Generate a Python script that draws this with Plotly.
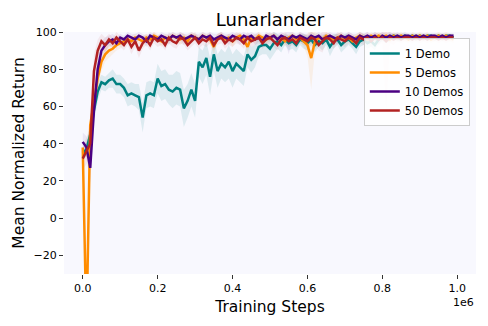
import plotly.graph_objects as go

# training steps (every 10k steps, 100 evaluations)
steps = [i * 10000 for i in range(100)]

demo1_mean = [35, 37, 45, 58, 68, 73, 72, 74, 75, 72,
              72, 70, 66, 67, 66, 65, 54, 66, 67, 66,
              75, 71, 72, 69, 68, 70, 69, 59, 63, 69,
              63, 84, 81, 86, 76, 88, 79, 83, 81, 84,
              79, 83, 81, 79, 88, 85, 87, 92, 93, 93,
              91, 94, 95, 93, 96, 94, 95, 93, 96, 95,
              94, 96, 93, 95, 94, 96, 92, 95, 96, 93,
              95, 96, 94, 92, 95, 96, 94, 95, 93, 96,
              97, 96, 97, 98, 97, 97, 98, 97, 98, 97,
              98, 97, 98, 98, 97, 98, 97, 98, 98, 97]
demo1_std = [3, 4, 5, 6, 5, 4, 4, 4, 5, 5,
             5, 5, 6, 6, 6, 7, 8, 7, 7, 7,
             8, 8, 8, 8, 9, 9, 9, 10, 9, 9,
             9, 8, 9, 9, 10, 9, 9, 8, 8, 9,
             9, 8, 8, 8, 7, 7, 6, 5, 5, 5,
             6, 6, 4, 4, 3, 4, 4, 4, 3, 4,
             4, 3, 4, 3, 4, 3, 5, 4, 3, 4,
             4, 3, 3, 4, 3, 3, 3, 3, 3, 2,
             2, 2, 2, 1, 2, 2, 1, 2, 1, 2,
             1, 2, 1, 1, 2, 1, 2, 1, 1, 2]

demo5_mean = [38, -60, 50, 62, 75, 84, 88, 90, 91, 93,
              94, 95, 96, 95, 97, 96, 95, 97, 96, 98,
              97, 95, 97, 96, 98, 97, 96, 97, 95, 98,
              97, 96, 98, 97, 96, 92, 97, 98, 96, 97,
              95, 97, 98, 96, 92, 97, 96, 98, 97, 96,
              97, 98, 96, 97, 95, 97, 98, 96, 97, 95,
              93, 86, 95, 97, 96, 98, 97, 96, 97, 98,
              96, 97, 95, 97, 98, 97, 96, 98, 97, 98,
              97, 98, 96, 98, 97, 98, 97, 96, 98, 97,
              98, 97, 98, 96, 97, 98, 97, 98, 97, 96]
demo5_std = [4, 30, 8, 8, 7, 5, 4, 4, 3, 3,
             3, 2, 2, 3, 2, 2, 3, 2, 2, 2,
             2, 3, 2, 2, 2, 2, 3, 2, 3, 2,
             2, 2, 2, 2, 3, 4, 2, 2, 2, 2,
             3, 2, 2, 2, 4, 2, 2, 2, 2, 2,
             2, 2, 2, 2, 3, 2, 2, 2, 2, 3,
             6, 17, 5, 2, 2, 2, 2, 2, 2, 2,
             2, 2, 3, 2, 2, 2, 2, 2, 2, 2,
             2, 2, 2, 2, 2, 2, 2, 2, 2, 2,
             2, 2, 2, 2, 2, 2, 2, 2, 2, 2]

demo10_mean = [41, 38, 27, 58, 80, 90, 93, 95, 96, 94,
               97, 96, 98, 97, 96, 98, 97, 95, 98, 97,
               96, 98, 97, 96, 98, 97, 98, 96, 97, 98,
               97, 96, 98, 97, 98, 96, 97, 98, 97, 96,
               98, 97, 96, 98, 97, 98, 96, 97, 95, 98,
               97, 98, 96, 98, 97, 96, 98, 97, 98, 97,
               96, 98, 97, 98, 96, 97, 98, 97, 96, 98,
               97, 98, 97, 96, 98, 97, 98, 97, 98, 96,
               98, 97, 98, 97, 98, 97, 98, 98, 97, 98,
               97, 98, 97, 98, 98, 97, 98, 97, 98, 98]
demo10_std = [5, 6, 8, 9, 7, 5, 4, 3, 3, 3,
              2, 2, 2, 2, 3, 2, 2, 3, 2, 2,
              2, 2, 2, 3, 2, 2, 2, 3, 2, 2,
              2, 3, 2, 2, 2, 3, 2, 2, 2, 3,
              2, 2, 3, 2, 2, 2, 3, 2, 3, 2,
              2, 2, 3, 2, 2, 8, 2, 2, 2, 2,
              3, 2, 2, 2, 3, 2, 2, 2, 3, 2,
              2, 2, 2, 3, 2, 2, 2, 2, 2, 3,
              2, 2, 2, 2, 2, 2, 2, 1, 2, 1,
              2, 1, 2, 1, 1, 2, 1, 2, 1, 1]

demo50_mean = [32, 36, 40, 79, 90, 95, 93, 96, 94, 97,
               95, 93, 96, 92, 95, 90, 94, 96, 93, 97,
               95, 96, 93, 97, 95, 94, 97, 96, 93, 95,
               97, 94, 96, 95, 97, 93, 96, 97, 94, 96,
               95, 97, 96, 94, 97, 95, 96, 97, 94, 96,
               97, 95, 93, 96, 97, 95, 96, 94, 97, 96,
               95, 97, 96, 93, 95, 97, 96, 94, 97, 96,
               95, 97, 96, 94, 97, 96, 97, 95, 97, 96,
               97, 95, 97, 96, 97, 96, 97, 97, 96, 97,
               96, 97, 96, 97, 97, 96, 97, 96, 97, 97]
demo50_std = [6, 7, 9, 9, 6, 4, 4, 3, 3, 3,
              3, 3, 3, 4, 3, 4, 3, 3, 3, 3,
              3, 3, 3, 3, 3, 3, 3, 3, 3, 3,
              3, 3, 3, 3, 3, 3, 3, 3, 3, 3,
              3, 3, 3, 3, 3, 3, 3, 3, 3, 3,
              3, 3, 3, 3, 3, 3, 3, 3, 3, 3,
              3, 3, 3, 3, 6, 3, 3, 3, 3, 3,
              3, 3, 3, 3, 3, 3, 3, 3, 3, 3,
              3, 38, 3, 3, 2, 2, 2, 2, 2, 2,
              2, 2, 2, 2, 2, 2, 2, 2, 2, 2]

series = [
    ("1 Demo", demo1_mean, demo1_std, "#008080", "rgba(0,128,128,0.11)"),
    ("5 Demos", demo5_mean, demo5_std, "#FF8C00", "rgba(255,140,0,0.09)"),
    ("10 Demos", demo10_mean, demo10_std, "#4B0082", "rgba(75,0,130,0.07)"),
    ("50 Demos", demo50_mean, demo50_std, "#B22222", "rgba(178,34,34,0.07)"),
]

fig = go.Figure()

# shaded bands first
for name, mean, std, color, band in series:
    upper = [m + s for m, s in zip(mean, std)]
    lower = [m - s for m, s in zip(mean, std)]
    fig.add_trace(go.Scatter(
        x=steps + steps[::-1], y=upper + lower[::-1],
        fill="toself", fillcolor=band, line=dict(width=0),
        mode="lines", hoverinfo="skip", showlegend=False,
    ))

for name, mean, std, color, band in series:
    fig.add_trace(go.Scatter(
        x=steps, y=mean, mode="lines", name=name,
        line=dict(color=color, width=2.5),
    ))

# page body has an 8px margin, so the figure is 8px smaller than the window
fig.update_layout(
    width=480, height=318,
    margin=dict(l=56, r=12, t=24, b=52),
    paper_bgcolor="white",
    plot_bgcolor="#F8F8FE",
    font=dict(family="DejaVu Sans", color="black"),
    title=dict(text="Lunarlander", xref="paper", x=0.5, xanchor="center",
               yref="container", y=1 - 12 / 318, yanchor="middle",
               font=dict(size=18)),
    legend=dict(x=0.985, y=0.975, xanchor="right", yanchor="top",
                bgcolor="rgba(255,255,255,0.85)", bordercolor="#cccccc",
                borderwidth=1, font=dict(size=11.5), itemwidth=30,
                tracegroupgap=0),
    showlegend=True,
)
fig.update_xaxes(
    range=[-50000, 1050000], automargin=False,
    tickvals=[0, 200000, 400000, 600000, 800000, 1000000],
    ticktext=["0.0", "0.2", "0.4", "0.6", "0.8", "1.0"],
    ticks="outside", ticklen=4, tickcolor="#333", tickfont=dict(size=11),
    showgrid=False, zeroline=False, showline=False,
    title=dict(text="Training Steps", font=dict(size=15.5), standoff=6),
)
fig.update_yaxes(
    range=[-30, 100], automargin=False,
    tickvals=[-20, 0, 20, 40, 60, 80, 100],
    ticktext=["\u221220", "0", "20", "40", "60", "80", "100"],
    ticks="outside", ticklen=4, tickcolor="#333", tickfont=dict(size=11),
    showgrid=False, zeroline=False, showline=False,
    title=dict(text="Mean Normalized Return", font=dict(size=15.5), standoff=5),
)
fig.add_annotation(text="1e6", xref="paper", yref="paper", x=1.0, y=0,
                   yshift=-28, xanchor="right", yanchor="middle",
                   showarrow=False, font=dict(size=11))

fig.write_html("out.html")
